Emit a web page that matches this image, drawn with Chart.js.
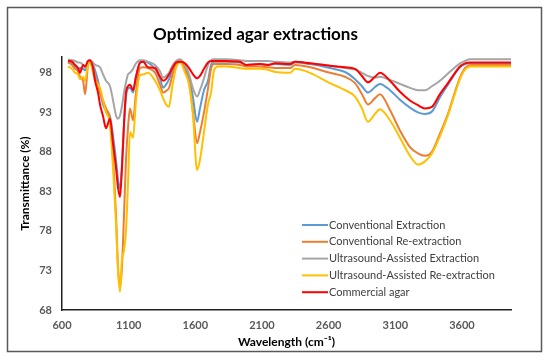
<!DOCTYPE html>
<html>
<head>
<meta charset="utf-8">
<script src="https://cdn.jsdelivr.net/npm/chart.js@4"></script>
<style>
  body { margin: 0; background: #fff; }
  #wrap { position: relative; width: 550px; height: 359px; }
</style>
</head>
<body>
<div id="wrap"><canvas id="ftir"></canvas></div>
<script>
// wavenumbers (cm-1)
const wavenumbers = [645, 675, 698, 720, 735, 758, 773, 795, 810, 833, 848, 870, 885, 908, 930, 960, 983, 1005, 1020, 1035,
  1050, 1065, 1080, 1095, 1110, 1133, 1155, 1185, 1208, 1245, 1298, 1335, 1358, 1380, 1403, 1425, 1455, 1485, 1523, 1553,
  1583, 1613, 1635, 1665, 1695, 1718, 1740, 1770, 1823, 1935, 1980, 2085, 2145, 2198, 2310, 2348, 2460, 2610, 2723, 2798,
  2850, 2895, 2948, 2985, 3060, 3135, 3210, 3270, 3323, 3375, 3435, 3495, 3548, 3585, 3623, 3660, 3810, 3968];

const conventional = [99.4, 99.2, 98.8, 98.4, 98.6, 98.5, 98.3, 99.3, 99.5, 99.0, 98.3, 97.0, 95.6, 94.0, 93.2, 92.5, 90.0, 87.0, 84.5, 83.3,
  86.5, 91.5, 95.0, 96.0, 96.1, 95.5, 97.5, 99.2, 99.4, 99.3, 98.5, 97.3, 96.1, 96.5, 97.2, 98.2, 99.2, 99.6, 98.5, 97.5,
  94.8, 91.8, 93.5, 95.8, 97.0, 99.0, 99.4, 99.4, 99.4, 99.3, 99.0, 99.1, 99.0, 99.1, 99.0, 99.3, 99.1, 98.6, 98.1, 97.2,
  96.3, 95.5, 96.2, 96.6, 95.8, 94.6, 93.6, 93.0, 92.8, 93.1, 94.9, 96.5, 97.9, 98.7, 99.1, 99.2, 99.2, 99.2];

const conventionalRe = [99.3, 99.0, 98.5, 98.2, 97.5, 97.0, 95.3, 99.0, 99.5, 98.6, 97.5, 96.5, 95.5, 94.5, 93.5, 92.0, 87.0, 80.0, 73.5, 70.8,
  73.5, 80.0, 87.0, 91.0, 93.5, 92.0, 95.5, 98.6, 98.7, 98.6, 98.0, 96.5, 95.5, 95.7, 96.1, 97.5, 99.0, 99.5, 98.3, 96.8,
  93.0, 89.1, 90.5, 93.0, 96.0, 98.5, 99.1, 99.1, 99.1, 99.0, 98.8, 98.8, 98.7, 98.6, 98.6, 99.0, 98.7, 98.0, 97.5, 96.7,
  95.3, 94.0, 94.8, 95.3, 93.3, 90.7, 88.6, 87.8, 87.5, 88.0, 90.3, 92.8, 95.6, 97.4, 98.6, 99.0, 99.0, 99.0];

const ultrasound = [99.7, 99.6, 99.5, 99.3, 99.3, 99.0, 98.6, 99.4, 99.6, 99.3, 99.0, 98.9, 98.7, 97.8, 97.0, 96.3, 94.5, 92.6, 92.2, 92.6,
  93.8, 95.5, 96.8, 97.8, 98.0, 98.5, 99.2, 99.6, 99.6, 99.4, 99.0, 98.2, 97.4, 97.6, 98.0, 98.8, 99.5, 99.7, 99.0, 97.8,
  96.0, 95.0, 95.8, 97.3, 99.0, 99.6, 99.7, 99.7, 99.7, 99.6, 99.5, 99.5, 99.5, 99.4, 99.3, 99.4, 99.2, 98.9, 98.6, 98.4,
  98.0, 97.6, 97.4, 97.5, 97.1, 96.6, 96.1, 95.8, 95.8, 96.3, 97.0, 97.9, 98.7, 99.2, 99.5, 99.7, 99.7, 99.7];

const ultrasoundRe = [98.8, 98.5, 98.0, 97.8, 97.2, 97.5, 97.0, 99.0, 99.3, 98.0, 97.0, 96.5, 96.1, 94.5, 93.0, 91.4, 86.0, 79.0, 73.0, 70.3,
  74.5, 75.5, 78.0, 84.0, 90.5, 89.8, 94.5, 97.7, 97.8, 98.0, 97.0, 95.8, 94.8, 94.0, 93.7, 96.0, 98.6, 99.3, 98.0, 96.5,
  92.5, 85.7, 87.0, 90.5, 94.0, 95.5, 98.3, 98.8, 98.8, 98.6, 98.5, 98.5, 98.4, 98.1, 98.0, 98.5, 98.0, 96.7, 95.8, 95.0,
  93.5, 91.8, 92.8, 93.4, 92.0, 89.8, 87.5, 86.4, 86.8, 87.8, 90.0, 92.6, 95.4, 97.2, 98.4, 98.8, 98.8, 98.8];

const commercial = [99.5, 99.4, 99.0, 98.6, 98.0, 99.0, 98.8, 99.5, 99.6, 98.6, 97.0, 95.5, 94.0, 92.5, 91.0, 92.2, 89.0, 86.0, 83.5, 82.3,
  86.0, 91.5, 95.5, 96.3, 96.5, 95.8, 97.5, 99.3, 99.4, 98.7, 98.6, 97.5, 97.0, 97.2, 97.8, 98.5, 99.3, 99.4, 99.2, 98.6,
  97.8, 97.3, 97.6, 98.5, 99.3, 99.5, 99.5, 99.5, 99.5, 99.4, 99.0, 99.1, 99.0, 99.2, 99.1, 99.4, 99.2, 98.9, 98.7, 98.5,
  97.6, 96.8, 97.5, 98.0, 97.0, 95.6, 94.5, 93.9, 93.5, 93.7, 95.3, 96.7, 98.0, 98.8, 99.2, 99.3, 99.3, 99.3];

const xTicks = [600, 1100, 1600, 2100, 2600, 3100, 3600];
const yTicks = [68, 73, 78, 83, 88, 93, 98];

const seriesNames = ['Conventional Extraction', 'Conventional Re-extraction', 'Ultrasound-Assisted Extraction',
  'Ultrasound-Assisted Re-extraction', 'Commercial agar'];
const seriesData = [conventional, conventionalRe, ultrasound, ultrasoundRe, commercial];
const seriesColors = ['#5B9BD5', '#ED7D31', '#A5A5A5', '#FFC000', '#FF0000'];
const drawOrder = [4, 3, 2, 1, 0];

const pts = arr => wavenumbers.map((w, i) => ({ x: w, y: arr[i] }));

// white page + dark frame round the chart
const framePlugin = {
  id: 'frame',
  beforeDraw(chart) {
    const ctx = chart.ctx;
    ctx.save();
    ctx.fillStyle = '#fff';
    ctx.fillRect(0, 0, chart.width, chart.height);
    ctx.strokeStyle = '#595959';
    ctx.lineWidth = 1.5;
    ctx.strokeRect(7.5, 7.5, 534, 344);
    ctx.restore();
  }
};

// legend sitting inside the plot area
const innerLegend = {
  id: 'innerLegend',
  afterDraw(chart) {
    const ctx = chart.ctx;
    const a = chart.chartArea;
    const x0 = a.left + 240, y0 = a.top + 168;
    ctx.save();
    ctx.font = '11px Lato';
    ctx.textBaseline = 'middle';
    chart.data.datasets.forEach((ds, i) => {
      const y = y0 + i * 16.8;
      ctx.strokeStyle = ds.borderColor;
      ctx.lineWidth = 2;
      ctx.beginPath();
      ctx.moveTo(x0, y);
      ctx.lineTo(x0 + 26, y);
      ctx.stroke();
      ctx.fillStyle = '#404040';
      ctx.fillText(ds.label, x0 + 27, y);
    });
    ctx.restore();
  }
};

const tickFont = { family: 'Lato', size: 11, weight: 'bold' };

new Chart(document.getElementById('ftir'), {
  type: 'line',
  data: {
    datasets: seriesNames.map((name, i) => ({
      label: name,
      data: pts(seriesData[i]),
      borderColor: seriesColors[i],
      backgroundColor: seriesColors[i],
      borderWidth: 2,
      pointRadius: 0,
      cubicInterpolationMode: 'monotone',
      order: drawOrder[i]
    }))
  },
  options: {
    responsive: true,
    maintainAspectRatio: false,
    animation: false,
    layout: { padding: { left: 0, right: 39, top: 0, bottom: 0 } },
    plugins: {
      legend: { display: false },
      tooltip: { enabled: false },
      title: {
        display: true,
        text: 'Optimized agar extractions',
        color: '#000',
        font: { family: 'Lato', size: 17, weight: 'bold', lineHeight: 1.2 },
        padding: { top: 24.8, bottom: 11.8 }
      }
    },
    scales: {
      x: {
        type: 'linear',
        min: 600,
        max: 3968,
        afterFit: s => { s.height = 49; },
        afterBuildTicks: s => { s.ticks = xTicks.map(v => ({ value: v })); },
        grid: { display: false, drawTicks: false },
        border: { display: true, color: '#222', width: 1.5 },
        ticks: { padding: 9, color: '#595959', font: tickFont, maxRotation: 0, callback: v => String(v) },
        title: {
          display: true,
          text: 'Wavelength (cm⁻¹)',
          color: '#000',
          font: { family: 'Lato', size: 12, weight: 'bold', lineHeight: 1.2 },
          padding: { top: 0, bottom: 10 }
        }
      },
      y: {
        min: 68,
        max: 100,
        afterFit: s => { s.width = 62; },
        afterBuildTicks: s => { s.ticks = yTicks.map(v => ({ value: v })); },
        grid: { display: false, drawTicks: false },
        border: { display: true, color: '#222', width: 1.5 },
        ticks: { padding: 10, color: '#595959', font: tickFont, callback: v => String(v) },
        title: {
          display: true,
          text: 'Transmittance (%)',
          color: '#000',
          font: { family: 'Lato', size: 12, weight: 'bold', lineHeight: 1.2 },
          padding: { top: 18, bottom: 0 }
        }
      }
    }
  },
  plugins: [framePlugin, innerLegend]
});
</script>
</body>
</html>
